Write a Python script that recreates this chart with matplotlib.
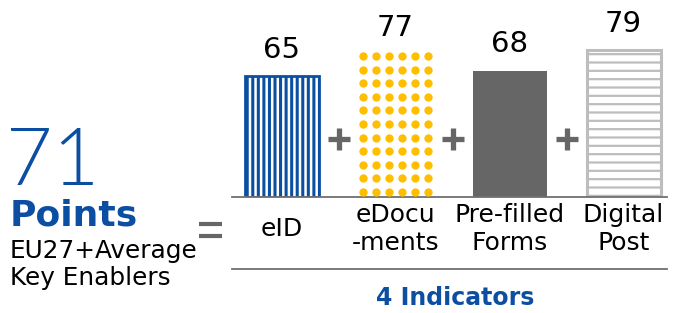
import numpy as np
import matplotlib
matplotlib.use("Agg")
import matplotlib.pyplot as plt
from matplotlib.lines import Line2D

# ---- data ----
categories = ["eID", "eDocu\n-ments", "Pre-filled\nForms", "Digital\nPost"]
values = [65, 77, 68, 79]
total_value = "71"
total_unit = "Points"
total_desc = "EU27+Average\nKey Enablers"
footer = "4 Indicators"

BLUE = "#0B4EA2"
YELLOW = "#FFBF00"
DARK = "#666666"
LIGHT = "#BDBDBD"
LINEC = "#707070"

plt.rcParams['font.family'] = ['DejaVu Sans']
plt.rcParams['hatch.linewidth'] = 2.2

W, H = 680, 313
fig = plt.figure(figsize=(W / 100, H / 100), dpi=100)

ax_l, ax_r, base_y = 232, 667, 197
px_per_unit = 1.86
ax = fig.add_axes([ax_l / W, (H - base_y) / H, (ax_r - ax_l) / W, base_y / H])
ax.set_ylim(0, base_y / px_per_unit)
step = 114.0
ax.set_xlim(-(281.5 - ax_l) / step, (ax_r - 281.5) / step)
for s in ["top", "left", "right"]:
    ax.spines[s].set_visible(False)
ax.spines["bottom"].set_color(LINEC)
ax.spines["bottom"].set_linewidth(1.3)
ax.set_xticks([])
ax.set_yticks([])
ax.patch.set_alpha(0)

x = np.arange(len(values))
bw = 74 / step

# bar 1: vertical blue stripes
ax.bar(x[0], values[0], width=bw, facecolor="white", edgecolor=BLUE,
       hatch="|||", linewidth=2.0, zorder=2)
# bar 2: yellow dots (grid clipped to the bar)
ax.bar(x[1], values[1], width=bw, facecolor="none", edgecolor="none", zorder=2)
dx = 13.0 / step
dy = 13.6 / px_per_unit
y0 = 5.0 / px_per_unit
cols = x[1] + (np.arange(6) - 2.5) * dx
rows = np.arange(y0, values[1], dy)
gx, gy = np.meshgrid(cols, rows)
ax.scatter(gx.ravel(), gy.ravel(), s=36, color=YELLOW, linewidths=0, zorder=3)
# bar 3: solid dark gray
ax.bar(x[2], values[2], width=bw, facecolor=DARK, edgecolor="none", zorder=2)
# bar 4: horizontal light gray stripes
with plt.rc_context({'hatch.linewidth': 1.6}):
    ax.bar(x[3], values[3], width=bw, facecolor="white", edgecolor=LIGHT,
           hatch="--", linewidth=2.2, zorder=2)

# value labels
for xi, v in zip(x, values):
    ax.annotate(str(v), (xi, v), xytext=(0, 13), textcoords="offset points",
                ha="center", va="baseline", fontsize=21, color="black")

# plus signs between bars
plus_y = (base_y - 138.5) / px_per_unit
ax.plot(x[:-1] + 0.5, [plus_y] * (len(x) - 1), linestyle="none", marker="+",
        markersize=16.5, markeredgewidth=3.8, color=DARK, clip_on=False)

# category labels
lab_y = -(229 - base_y) / base_y
for xi, c in zip(x, categories):
    ax.text(xi, lab_y, c, transform=ax.get_xaxis_transform(), ha="center",
            va="center", fontsize=18, color="black", linespacing=1.2)

# lower rule
low_y = -(269 - base_y) / base_y
ax.plot([0, 1], [low_y, low_y], transform=ax.transAxes, color=LINEC,
        linewidth=1.3, clip_on=False)

# footer
fig.text(455 / W, (H - 305) / H, footer, ha="center", va="baseline",
         fontsize=17, fontweight="bold", color=BLUE)

# left side summary
fig.text(6 / W, (H - 185) / H, total_value, ha="left", va="baseline",
         fontsize=58, fontweight=300, color=BLUE,
         family=["Lato", "Open Sans", "DejaVu Sans"])
fig.text(10 / W, (H - 225) / H, total_unit, ha="left", va="baseline",
         fontsize=26, fontweight="bold", color=BLUE)
fig.text(10 / W, (H - 258) / H, total_desc.split("\n")[0], ha="left",
         va="baseline", fontsize=17.8, color="black")
fig.text(10 / W, (H - 285) / H, total_desc.split("\n")[1], ha="left",
         va="baseline", fontsize=17.8, color="black")

# equals sign
for yy in (223.5, 235.5):
    fig.add_artist(Line2D([199 / W, 222 / W], [(H - yy) / H] * 2,
                          color=DARK, linewidth=3.0, solid_capstyle="butt"))

fig.savefig("out.png", dpi=100)
